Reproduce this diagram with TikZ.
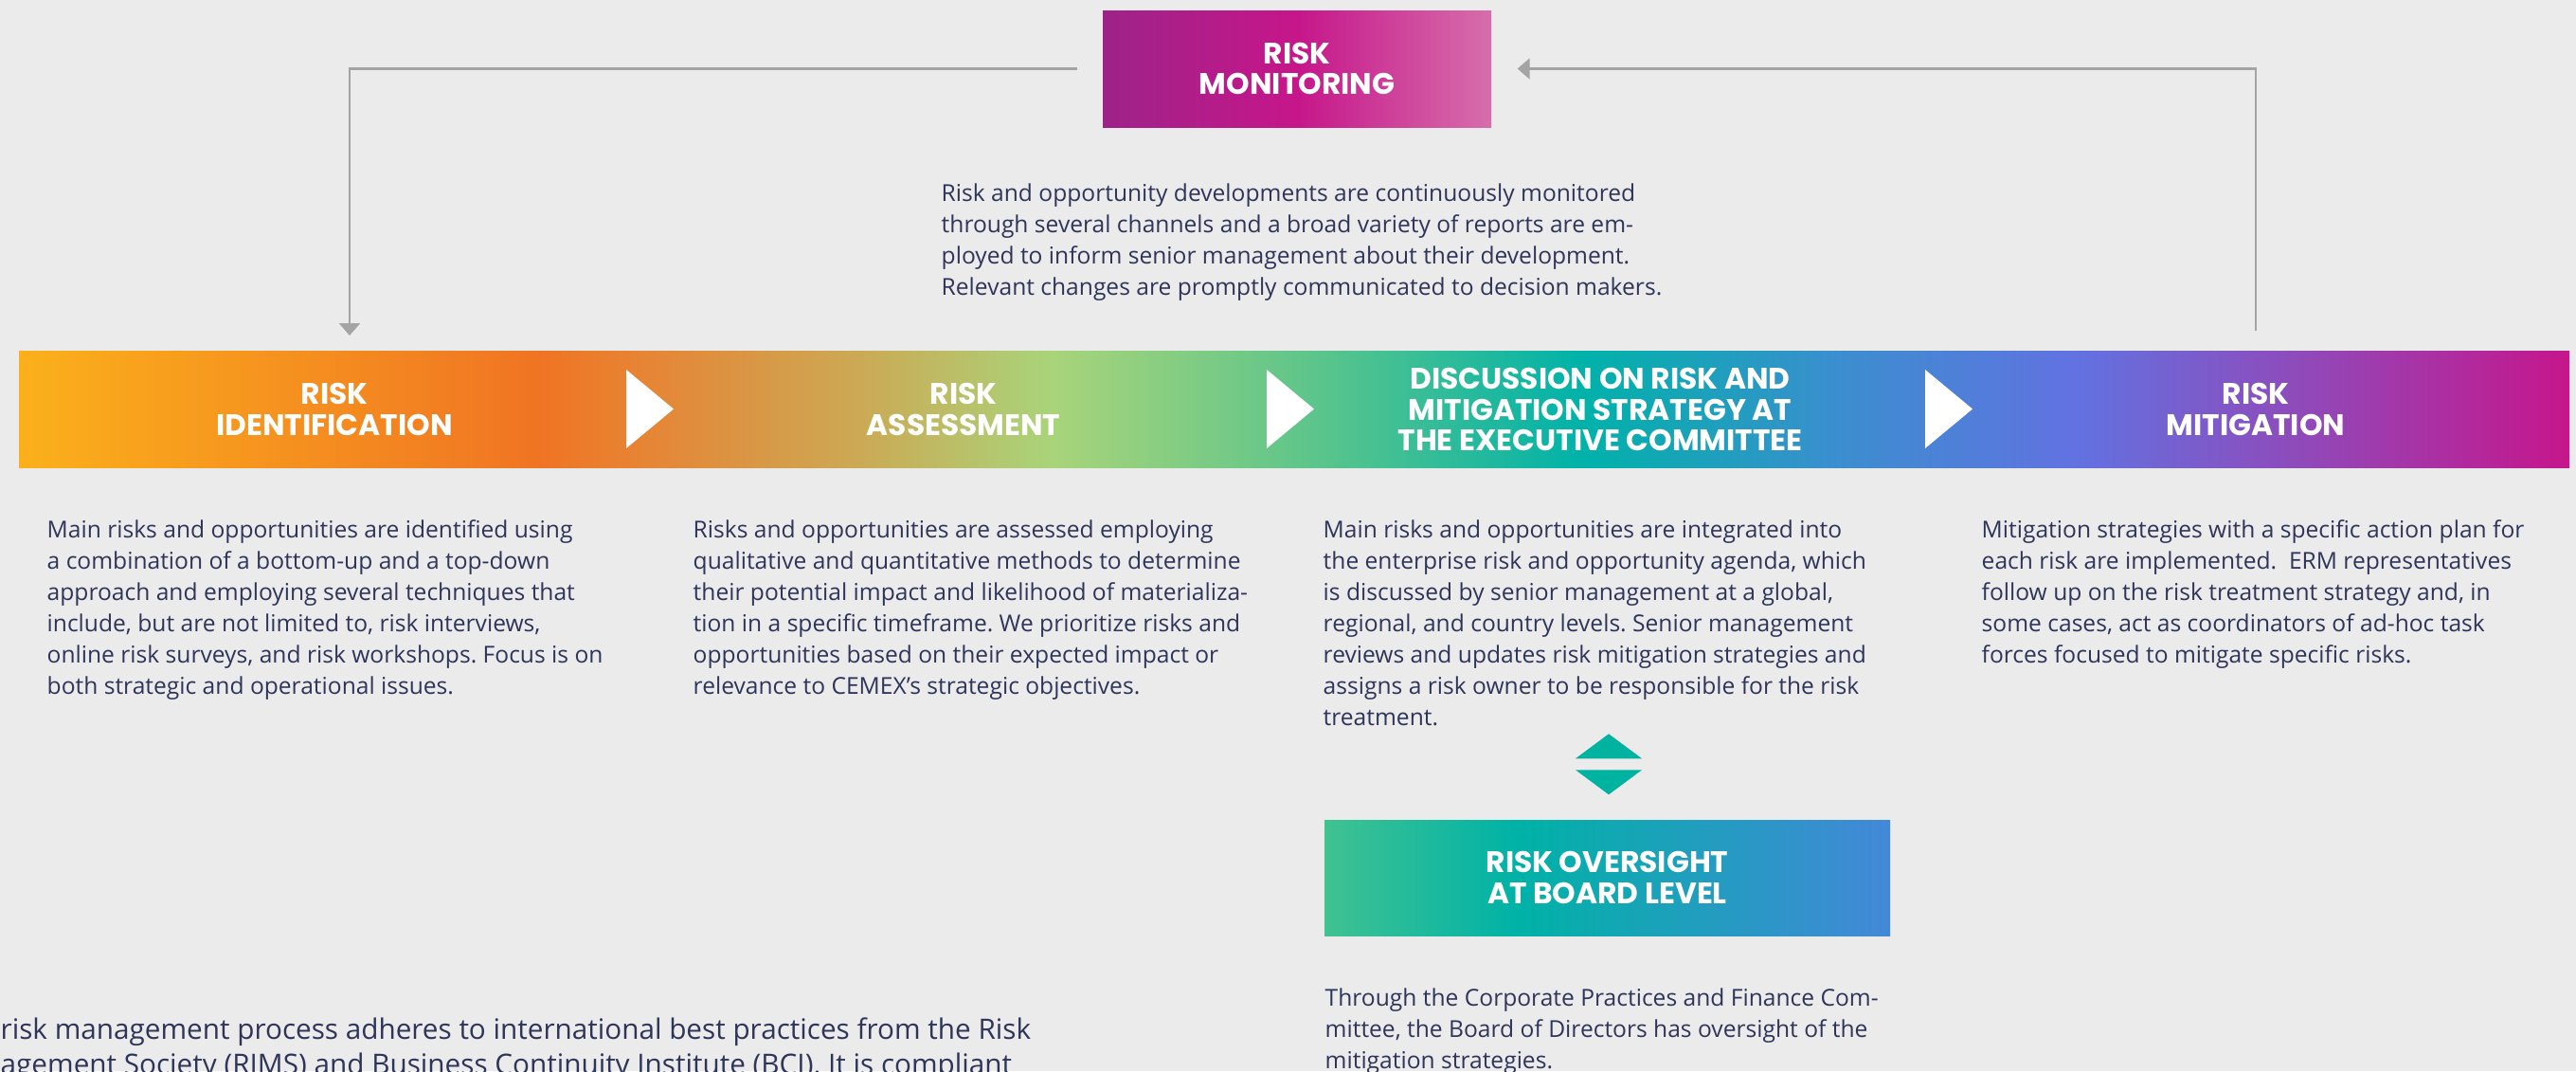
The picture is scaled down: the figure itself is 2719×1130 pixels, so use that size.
\documentclass[tikz,border=0pt]{standalone}
\usepackage{fontspec}
\setmainfont{Open Sans}
\newfontfamily\stagefont{Poppins}
\usepackage{tikz}
\usetikzlibrary{arrows.meta,calc}
\frenchspacing
\definecolor{bg}{HTML}{EBEBEB}
\definecolor{ink}{HTML}{2E3559}
\definecolor{linegray}{HTML}{A4A4A4}
\definecolor{tealtri}{HTML}{00B2A0}
\definecolor{b1}{HTML}{FBB01B}
\definecolor{b2}{HTML}{F07423}
\definecolor{b3}{HTML}{E48838}
\definecolor{b4}{HTML}{CDA854}
\definecolor{b5}{HTML}{A9D47A}
\definecolor{b6}{HTML}{58C48C}
\definecolor{b7}{HTML}{00B2A9}
\definecolor{b8}{HTML}{3B8ECF}
\definecolor{b9}{HTML}{6272E1}
\definecolor{b10}{HTML}{8E4BBB}
\definecolor{b11}{HTML}{C6168B}
\definecolor{m1}{HTML}{9D2389}
\definecolor{m2}{HTML}{C6168A}
\definecolor{m3}{HTML}{D66EAB}
\definecolor{o1}{HTML}{40C292}
\definecolor{o2}{HTML}{00B2A6}
\definecolor{o3}{HTML}{4388D8}
\pgfdeclarehorizontalshading{bandshade}{100bp}{color(0bp)=(b1); color(25bp)=(b1);
  color(35.2bp)=(b2); color(37.65bp)=(b3); color(41.35bp)=(b4); color(45.25bp)=(b5);
  color(50.65bp)=(b6); color(55.65bp)=(b7); color(60.65bp)=(b8); color(65.3bp)=(b9);
  color(69.6bp)=(b10); color(75bp)=(b11); color(100bp)=(b11)}
\pgfdeclarehorizontalshading{monshade}{100bp}{color(0bp)=(m1); color(25bp)=(m1);
  color(50bp)=(m2); color(75bp)=(m3); color(100bp)=(m3)}
\pgfdeclarehorizontalshading{boardshade}{100bp}{color(0bp)=(o1); color(25bp)=(o1);
  color(42bp)=(o2); color(75bp)=(o3); color(100bp)=(o3)}
\tikzset{
  >=Stealth,
  stage/.style={font=\stagefont\bfseries\fontsize{8.9pt}{9.3pt}\selectfont, text=white, align=center, inner sep=0pt},
  desc/.style={font=\fontsize{7pt}{9.39pt}\selectfont, text=ink, align=left, anchor=north west, inner sep=0pt},
  conn/.style={draw=linegray, line width=0.22mm, -{Triangle[length=1.3mm,width=2.2mm]}},
  tri/.style={fill=tealtri}
}
\begin{document}
\begin{tikzpicture}[x=0.1mm,y=-0.1mm]
\useasboundingbox (0,0) rectangle (2719,1130);
\fill[bg] (0,0) rectangle (2719,1130);
\clip (0,0) rectangle (2719,1130);

\node[stage, shading=monshade, minimum width=41mm, minimum height=12.3mm] (mon) at (1369,72.5) {RISK\\MONITORING};
\node[desc] (monDesc) at (993,193) {Risk and opportunity developments are continuously monitored\\
through several channels and a broad variety of reports are em-\\
ployed to inform senior management about their development.\\
Relevant changes are promptly communicated to decision makers.};

\node[shading=bandshade, minimum width=269.2mm, minimum height=12.3mm, inner sep=0pt] (band) at (1366,431.5) {};
\foreach \cx in {661,1337,2032}
  \fill[white] (\cx,390) -- ++(50,41.5) -- ++(-50,41.5) -- cycle;
\node[stage] (ident) at (353,432) {RISK\\IDENTIFICATION};
\node[stage] (assess) at (1017,432) {RISK\\ASSESSMENT};
\node[stage] (exec) at (1689,432) {DISCUSSION ON RISK AND\\MITIGATION STRATEGY AT\\THE EXECUTIVE COMMITTEE};
\node[stage] (mitig) at (2381,432) {RISK\\MITIGATION};

\coordinate (identTop) at (369,370);
\coordinate (mitigTop) at (2381,370);
\draw[conn, shorten <=2.6mm, shorten >=1.6mm] (mon.west) -| (identTop);
\draw[conn, shorten <=2.1mm, shorten >=2.7mm] (mitigTop) |- (mon.east);

\node[desc] (identDesc) at (49,548) {Main risks and opportunities are identified using\\
a combination of a bottom-up and a top-down\\
approach and employing several techniques that\\
include, but are not limited to, risk interviews,\\
online risk surveys, and risk workshops. Focus is on\\
both strategic and operational issues.};
\node[desc] (assessDesc) at (731,548) {Risks and opportunities are assessed employing\\
qualitative and quantitative methods to determine\\
their potential impact and likelihood of materializa-\\
tion in a specific timeframe. We prioritize risks and\\
opportunities based on their expected impact or\\
relevance to CEMEX’s strategic objectives.};
\node[desc] (execDesc) at (1396,548) {Main risks and opportunities are integrated into\\
the enterprise risk and opportunity agenda, which\\
is discussed by senior management at a global,\\
regional, and country levels. Senior management\\
reviews and updates risk mitigation strategies and\\
assigns a risk owner to be responsible for the risk\\
treatment.};
\node[desc] (mitigDesc) at (2091,548) {Mitigation strategies with a specific action plan for\\
each risk are implemented.~~ERM representatives\\
follow up on the risk treatment strategy and, in\\
some cases, act as coordinators of ad-hoc task\\
forces focused to mitigate specific risks.};

\node[stage, shading=boardshade, minimum width=59.7mm, minimum height=12.2mm] (board) at (1696.5,926) {RISK OVERSIGHT\\AT BOARD LEVEL};
\fill[tri] ($(board.north)+(1.5,-26)$) -- ++(-35,-26) -- ++(70,0) -- cycle;
\fill[tri] ($(board.north)+(1.5,-90)$) -- ++(-35,26) -- ++(70,0) -- cycle;
\node[desc] (boardDesc) at (1398,1042) {Through the Corporate Practices and Finance Com-\\
mittee, the Board of Directors has oversight of the\\
mitigation strategies.};

\node[desc, font=\fontsize{8.45pt}{10.5pt}\selectfont] (process) at (0,1073) {risk management process adheres to international best practices from the Risk\\
agement Society (RIMS) and Business Continuity Institute (BCI). It is compliant};
\end{tikzpicture}
\end{document}
